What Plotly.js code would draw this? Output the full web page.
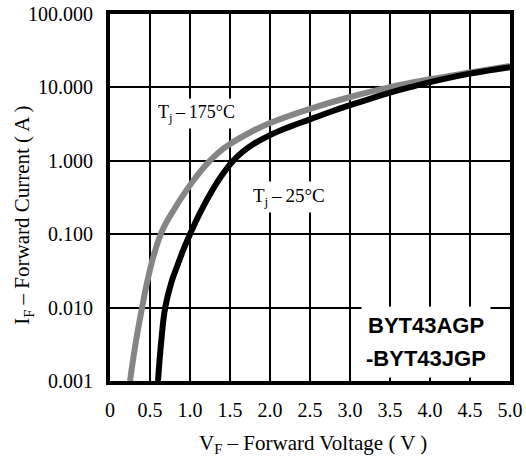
<!DOCTYPE html>
<html>
<head>
<meta charset="utf-8">
<script src="https://cdn.plot.ly/plotly-3.0.1.min.js"></script>
<style>html,body{margin:0;padding:0;background:#fff;}#chart{width:526px;height:456px;}</style>
</head>
<body>
<div id="chart"></div>
<script>
// Tj = 175 °C curve (gray): forward voltage (V) and forward current (A)
const vf175 = [0.25, 0.325, 0.40, 0.475, 0.5625, 0.6625, 0.8125, 0.9375, 1.0625, 1.1875, 1.35, 1.5, 1.75, 2.0, 2.5, 3.0, 3.5, 4.0, 4.5, 5.0];
const if175 = [0.001, 0.0035, 0.0099, 0.0251, 0.059, 0.1175, 0.228, 0.372, 0.575, 0.851, 1.28, 1.69, 2.43, 3.27, 5.1, 7.4, 10.1, 12.9, 16.0, 19.6];
// Tj = 25 °C curve (black)
const vf25 = [0.60, 0.645, 0.69, 0.7675, 0.845, 0.9225, 1.0, 1.135, 1.27, 1.405, 1.54, 1.655, 1.77, 2.0, 2.25, 2.5, 2.75, 3.0, 3.25, 3.5, 3.75, 4.0, 4.5, 5.0];
const if25 = [0.001, 0.0039, 0.01, 0.0221, 0.038, 0.0634, 0.1, 0.204, 0.381, 0.649, 1.0, 1.315, 1.63, 2.24, 2.92, 3.67, 4.62, 5.72, 7.0, 8.46, 10.06, 11.8, 15.4, 18.9];

const xTickVals = [0, 0.5, 1.0, 1.5, 2.0, 2.5, 3.0, 3.5, 4.0, 4.5, 5.0];
const xTickText = ['0', '0.5', '1.0', '1.5', '2.0', '2.5', '3.0', '3.5', '4.0', '4.5', '5.0'];
const yTickVals = [0.001, 0.01, 0.1, 1, 10, 100];
const yTickText = ['0.001', '0.010', '0.100', '1.000', '10.000', '100.000'];

const serif = 'Liberation Serif, Times New Roman, serif';
const sans = 'Liberation Sans, Arial, sans-serif';

const traces = [
  {x: vf175, y: if175, mode: 'lines', line: {color: '#858585', width: 6, shape: 'spline', smoothing: 1.2}, hoverinfo: 'skip'},
  {x: vf25, y: if25, mode: 'lines', line: {color: '#000000', width: 6, shape: 'spline', smoothing: 1.2}, hoverinfo: 'skip'}
];

const layout = {
  width: 526, height: 456,
  margin: {l: 110, r: 16, t: 14, b: 75},
  paper_bgcolor: '#fff', plot_bgcolor: '#fff',
  showlegend: false,
  font: {family: serif, size: 20, color: '#000'},
  xaxis: {
    range: [0, 5], tickvals: xTickVals, ticktext: xTickText,
    showgrid: true, gridcolor: '#000', gridwidth: 2,
    showline: true, linecolor: '#000', linewidth: 4, mirror: true,
    ticks: 'outside', ticklen: 8, tickcolor: 'rgba(0,0,0,0)',
    zeroline: false, tickfont: {family: serif, size: 20}
  },
  yaxis: {
    type: 'log', range: [-3, 2], tickvals: yTickVals, ticktext: yTickText,
    showgrid: true, gridcolor: '#000', gridwidth: 2,
    showline: true, linecolor: '#000', linewidth: 4, mirror: true,
    ticks: 'outside', ticklen: 9, tickcolor: 'rgba(0,0,0,0)',
    zeroline: false, tickfont: {family: serif, size: 20}
  },
  annotations: [
    {x: -0.2175, y: 0.45, xref: 'paper', yref: 'paper', textangle: -90, showarrow: false,
     text: 'I<sub>F</sub> – Forward Current ( A )', font: {family: serif, size: 21},
     xanchor: 'center', yanchor: 'middle'},
    {x: 0.5075, y: -0.172, xref: 'paper', yref: 'paper', showarrow: false,
     text: 'V<sub>F</sub> – Forward Voltage ( V )', font: {family: serif, size: 21},
     xanchor: 'center', yanchor: 'middle'},
    {x: 1.08, y: 0.638, xref: 'x', yref: 'y', text: 'T<sub>j</sub>\u2009–\u2009175°C', showarrow: false,
     bgcolor: '#fff', font: {family: serif, size: 18}, borderpad: 3},
    {x: 2.24, y: -0.493, xref: 'x', yref: 'y', text: 'T<sub>j</sub>\u2009–\u200925°C', showarrow: false,
     bgcolor: '#fff', font: {family: serif, size: 19}, borderpad: 3},
    {x: 3.95, y: -2.25, xref: 'x', yref: 'y', text: '<b>BYT43AGP</b>', showarrow: false,
     bgcolor: '#fff', font: {family: sans, size: 22}, borderpad: 6},
    {x: 3.95, y: -2.69, xref: 'x', yref: 'y', text: '<b>-BYT43JGP</b>', showarrow: false,
     bgcolor: '#fff', font: {family: sans, size: 22}, borderpad: 6}
  ]
};

Plotly.newPlot('chart', traces, layout, {displayModeBar: false, staticPlot: true});
</script>
</body>
</html>
